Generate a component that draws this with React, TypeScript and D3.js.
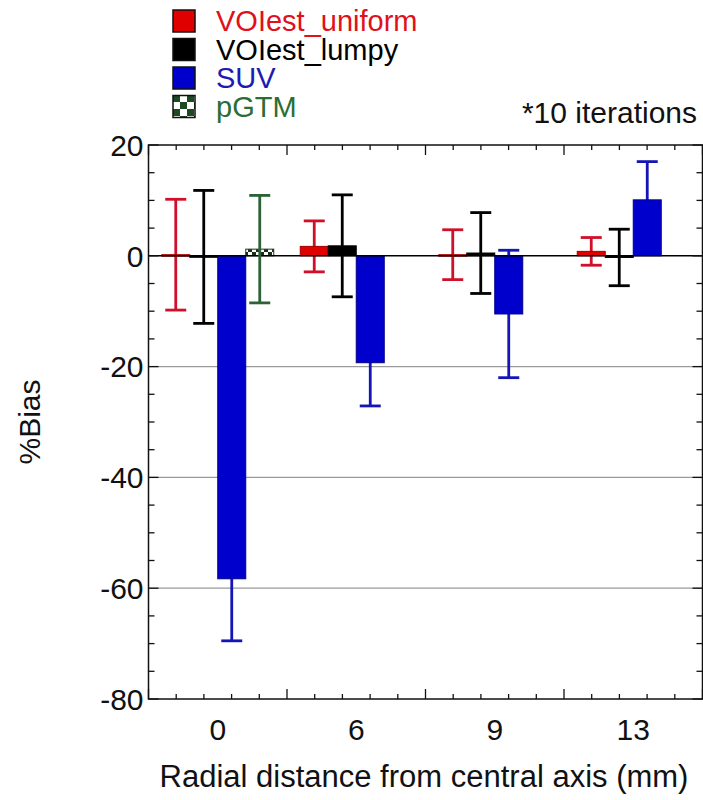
import React from "react";
import * as d3 from "d3";

const categories = ["0", "6", "9", "13"];
const seriesNames = ["VOIest_uniform", "VOIest_lumpy", "SUV", "pGTM"];
const uniformVals = [0.2, 1.7, 0.2, 0.8];
const uniformErr = [10.0, 4.6, 4.5, 2.5];
const lumpyVals = [-0.2, 1.8, 0.5, -0.3];
const lumpyErr = [12.0, 9.2, 7.3, 5.1];
const suvVals = [-58.3, -19.3, -10.5, 10.1];
const suvErr = [11.2, 7.8, 11.5, 6.9];
const pgtmVals: (number | null)[] = [1.2, null, null, null];
const pgtmErr: (number | null)[] = [9.7, null, null, null];
const yTicks = [20, 0, -20, -40, -60, -80];
const gridValues = [-20, -40, -60];

const W = 703;
const H = 800;
const M = { left: 148.5, right: 702.5, top: 145, bottom: 699 };

const FONT = "'Liberation Sans', Arial, Helvetica, sans-serif";

const barFill = ["#e00000", "#000000", "#0000cc", "url(#checker)"];
const barStroke = ["#a00000", "#000000", "#00008a", "#1a3a1a"];
const errColor = ["#d0102a", "#000000", "#1515b5", "#2b6236"];
const legendTextColor = ["#e0101c", "#000000", "#1c1cb4", "#2a6e35"];

export default function App() {
  const x = d3.scaleBand<string>().domain(categories).range([M.left, M.right]).padding(0);
  const y = d3.scaleLinear().domain([-80, 20]).range([M.bottom, M.top]);
  const inner = d3
    .scaleBand<string>()
    .domain(seriesNames)
    .range([0, x.bandwidth()])
    .paddingOuter((0.5 * (x.bandwidth() - 112)) / 28)
    .paddingInner(0);

  const values = [uniformVals, lumpyVals, suvVals, pgtmVals];
  const errs = [uniformErr, lumpyErr, suvErr, pgtmErr];

  const bw = inner.bandwidth();
  const capW = 21;

  const xMinor: number[] = [];
  const bandW = x.bandwidth();
  for (let i = 0; i <= categories.length * 5; i++) {
    xMinor.push(M.left + (i * bandW) / 5);
  }
  const yMinor = d3.range(-80, 20.001, 5);

  const errorBar = (c: string, ci: number, s: string, si: number) => {
    const v = values[si][ci];
    const e = errs[si][ci];
    if (v === null || v === undefined || e === null || e === undefined) return null;
    const cx = (x(c) as number) + (inner(s) as number) + bw / 2;
    const yt = y(v + e);
    const yb = y(v - e);
    return (
      <g key={"e" + c + s} stroke={errColor[si]} strokeWidth={2.8}>
        <line x1={cx} x2={cx} y1={yt} y2={yb} />
        <line x1={cx - capW / 2} x2={cx + capW / 2} y1={yt} y2={yt} />
        <line x1={cx - capW / 2} x2={cx + capW / 2} y1={yb} y2={yb} />
      </g>
    );
  };

  return (
    <svg width={W} height={H} style={{ display: "block", position: "absolute", left: 0, top: 0 }}>
      <defs>
        <pattern id="checker" width="8" height="8" patternUnits="userSpaceOnUse" x={0} y={0}>
          <rect width="8" height="8" fill="#ffffff" />
          <rect width="4" height="4" fill="#1a2e1a" />
          <rect x="4" y="4" width="4" height="4" fill="#1a2e1a" />
        </pattern>
        <pattern id="checkerLegend" width="14" height="14" patternUnits="userSpaceOnUse" x={173} y={95}>
          <rect width="14" height="14" fill="#ffffff" />
          <rect width="7" height="7" fill="#1d4a22" />
          <rect x="7" y="7" width="7" height="7" fill="#1d4a22" />
        </pattern>
      </defs>
      <rect width={W} height={H} fill="#fff" />

      {gridValues.map((v) => (
        <line key={v} x1={M.left} x2={M.right} y1={y(v)} y2={y(v)} stroke="#9a9a9a" strokeWidth={1.2} />
      ))}

      {/* error bars behind bars */}
      {categories.map((c, ci) => seriesNames.map((s, si) => (si === 3 ? null : errorBar(c, ci, s, si))))}

      {/* bars */}
      {categories.map((c, ci) =>
        seriesNames.map((s, si) => {
          const v = values[si][ci];
          if (v === null || v === undefined) return null;
          const x0 = (x(c) as number) + (inner(s) as number);
          const y0 = Math.min(y(v), y(0));
          const h = Math.abs(y(v) - y(0));
          return (
            <rect
              key={c + s}
              x={x0}
              y={y0}
              width={bw}
              height={Math.max(h, 1.5)}
              fill={barFill[si]}
              stroke={barStroke[si]}
              strokeWidth={1}
            />
          );
        })
      )}

      <line x1={M.left} x2={M.right} y1={y(0)} y2={y(0)} stroke="#000" strokeWidth={1.5} />

      {/* pGTM error bars over its bar */}
      {categories.map((c, ci) => errorBar(c, ci, seriesNames[3], 3))}

      <rect
        x={M.left}
        y={M.top}
        width={M.right - M.left}
        height={M.bottom - M.top}
        fill="none"
        stroke="#111"
        strokeWidth={1.5}
      />

      {xMinor.map((xv, i) => {
        const major = i % 5 === 0;
        const len = major ? 10 : 5;
        return (
          <g key={"xt" + i} stroke="#111" strokeWidth={1.3}>
            <line x1={xv} x2={xv} y1={M.bottom} y2={M.bottom - len} />
            <line x1={xv} x2={xv} y1={M.top} y2={M.top + len} />
          </g>
        );
      })}
      {yMinor.map((v) => {
        const major = Math.abs(v % 20) < 0.001;
        const len = major ? 10 : 6;
        return (
          <g key={"yt" + v} stroke="#111" strokeWidth={1.3}>
            <line x1={M.left} x2={M.left + len} y1={y(v)} y2={y(v)} />
            <line x1={M.right} x2={M.right - len} y1={y(v)} y2={y(v)} />
          </g>
        );
      })}

      {yTicks.map((v) => (
        <text
          key={"yl" + v}
          x={M.left - 5}
          y={y(v)}
          dy="0.36em"
          textAnchor="end"
          fontFamily={FONT}
          fontSize={30}
          fill="#111"
        >
          {v}
        </text>
      ))}

      {categories.map((c) => (
        <text
          key={"xl" + c}
          x={(x(c) as number) + x.bandwidth() / 2}
          y={740}
          textAnchor="middle"
          fontFamily={FONT}
          fontSize={30}
          fill="#111"
        >
          {c}
        </text>
      ))}

      <text x={424} y={787} textAnchor="middle" fontFamily={FONT} fontSize={31} fill="#111">
        Radial distance from central axis (mm)
      </text>
      <text
        transform={`translate(40, ${(M.top + M.bottom) / 2}) rotate(-90)`}
        textAnchor="middle"
        fontFamily={FONT}
        fontSize={30}
        fill="#111"
      >
        %Bias
      </text>

      <text x={697} y={123} textAnchor="end" fontFamily={FONT} fontSize={30} fill="#111">
        *10 iterations
      </text>

      {seriesNames.map((s, i) => {
        const ly = 10 + i * 28.5;
        return (
          <g key={"lg" + s}>
            <rect
              x={173}
              y={ly}
              width={22}
              height={22}
              fill={i === 3 ? "url(#checkerLegend)" : barFill[i]}
              stroke="#111"
              strokeWidth={1.5}
            />
            <text x={216} y={ly + 21} fontFamily={FONT} fontSize={29} fill={legendTextColor[i]}>
              {s}
            </text>
          </g>
        );
      })}
    </svg>
  );
}
